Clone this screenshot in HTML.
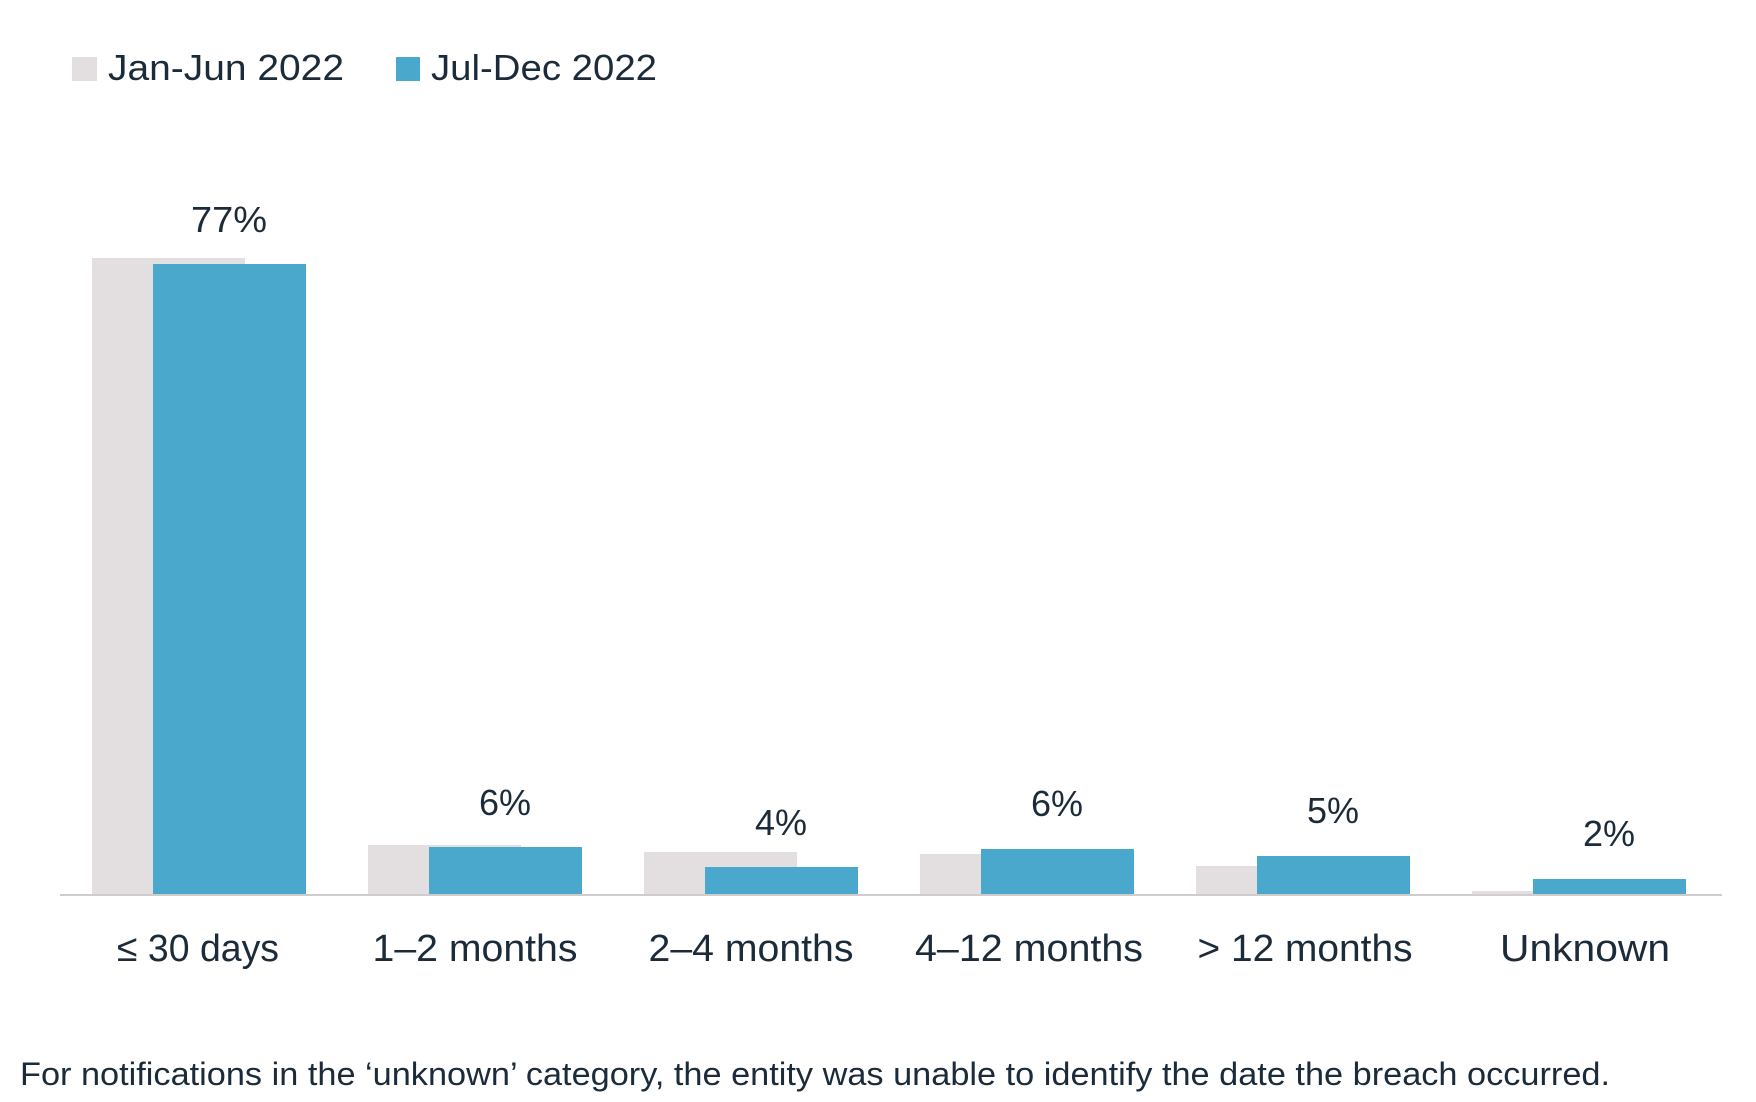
<!DOCTYPE html>
<html><head><meta charset="utf-8"><style>
html,body{margin:0;padding:0;background:#fff;}
svg{display:block;}
text{font-family:"Liberation Sans",sans-serif;fill:#1c2b39;}
</style></head><body>
<svg width="1756" height="1102" viewBox="0 0 1756 1102" xmlns="http://www.w3.org/2000/svg">
<rect x="72" y="57" width="25" height="24" fill="#e3dfe0"/>
<text x="108" y="80" font-size="36" textLength="236" lengthAdjust="spacingAndGlyphs">Jan-Jun 2022</text>
<rect x="396" y="57" width="24" height="24" fill="#4aa8cc"/>
<text x="431" y="80" font-size="36" textLength="226" lengthAdjust="spacingAndGlyphs">Jul-Dec 2022</text>

<g fill="#e3dfe0">
<rect x="92" y="258" width="153" height="637"/>
<rect x="368" y="845" width="153" height="50"/>
<rect x="644" y="852" width="153" height="43"/>
<rect x="920" y="854" width="153" height="41"/>
<rect x="1196" y="866" width="153" height="29"/>
<rect x="1472" y="891" width="153" height="4"/>
</g>
<g fill="#4aa8cc">
<rect x="153" y="264" width="153" height="631"/>
<rect x="429" y="847" width="153" height="48"/>
<rect x="705" y="867" width="153" height="28"/>
<rect x="981" y="849" width="153" height="46"/>
<rect x="1257" y="856" width="153" height="39"/>
<rect x="1533" y="879" width="153" height="16"/>
</g>
<rect x="60" y="894" width="1662" height="2" fill="#d0cccd"/>

<g font-size="36" text-anchor="middle">
<text x="229" y="232" textLength="76" lengthAdjust="spacingAndGlyphs">77%</text>
<text x="505" y="815">6%</text>
<text x="781" y="835">4%</text>
<text x="1057" y="816">6%</text>
<text x="1333" y="823">5%</text>
<text x="1609" y="846">2%</text>
</g>
<g font-size="38" text-anchor="middle">
<text x="198" y="961" textLength="162" lengthAdjust="spacingAndGlyphs">≤ 30 days</text>
<text x="475" y="961" textLength="205" lengthAdjust="spacingAndGlyphs">1–2 months</text>
<text x="751" y="961" textLength="205" lengthAdjust="spacingAndGlyphs">2–4 months</text>
<text x="1029" y="961" textLength="228" lengthAdjust="spacingAndGlyphs">4–12 months</text>
<text x="1305" y="961" textLength="215" lengthAdjust="spacingAndGlyphs">&gt; 12 months</text>
<text x="1585" y="961" textLength="170" lengthAdjust="spacingAndGlyphs">Unknown</text>
</g>
<text x="20" y="1085" font-size="32" textLength="1590" lengthAdjust="spacingAndGlyphs">For notifications in the ‘unknown’ category, the entity was unable to identify the date the breach occurred.</text>
</svg>
</body></html>
